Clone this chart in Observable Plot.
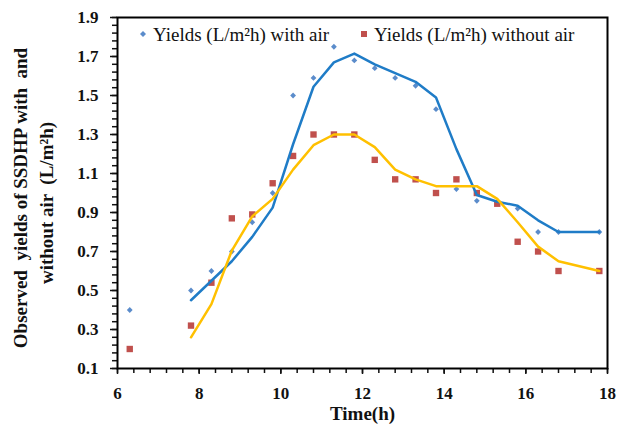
<!DOCTYPE html>
<html>
<head>
<meta charset="utf-8">
<script src="https://cdn.jsdelivr.net/npm/d3@7"></script>
<script src="https://cdn.jsdelivr.net/npm/@observablehq/plot@0.6"></script>
<style>
  html, body { margin: 0; padding: 0; background: #fff; }
  #wrap { position: relative; width: 618px; height: 430px; }
  #wrap svg, #wrap svg text { font-family: "Liberation Serif", "Times New Roman", serif !important; }
  #wrap svg text { font-weight: bold; }
  .leg { position: absolute; font-family: "Liberation Serif", "Times New Roman", serif; font-size: 19px; color: #111; white-space: nowrap; line-height: 19px; }
  .mk { position: absolute; line-height: 0; }
  .mk svg { display: block; }
</style>
</head>
<body>
<div id="wrap"></div>
<script>
// Time (h)
const times = [6.3, 7.8, 8.3, 8.8, 9.3, 9.8, 10.3, 10.8, 11.3, 11.8, 12.3, 12.8, 13.3, 13.8, 14.3, 14.8, 15.3, 15.8, 16.3, 16.8, 17.8];
// Observed yields (L/m²h) with air
const withAir = [0.4, 0.5, 0.6, 0.7, 0.85, 1.0, 1.5, 1.59, 1.75, 1.68, 1.64, 1.59, 1.55, 1.43, 1.02, 0.96, 0.95, 0.92, 0.8, 0.8, 0.8];
// Observed yields (L/m²h) without air
const withoutAir = [0.2, 0.32, 0.54, 0.87, 0.89, 1.05, 1.19, 1.3, 1.3, 1.3, 1.17, 1.07, 1.07, 1.0, 1.07, 1.0, 0.945, 0.75, 0.7, 0.6, 0.6];
// Trend lines (start at 7.8 h)
const lineTimes = [7.8, 8.3, 8.8, 9.3, 9.8, 10.3, 10.8, 11.3, 11.8, 12.3, 12.8, 13.3, 13.8, 14.3, 14.8, 15.3, 15.8, 16.3, 16.8, 17.8];
const lineWithAir = [0.45, 0.55, 0.65, 0.775, 0.925, 1.25, 1.545, 1.67, 1.715, 1.66, 1.615, 1.57, 1.49, 1.225, 0.99, 0.955, 0.935, 0.86, 0.8, 0.8];
const lineWithoutAir = [0.26, 0.43, 0.705, 0.88, 0.97, 1.12, 1.245, 1.3, 1.3, 1.235, 1.12, 1.07, 1.035, 1.035, 1.035, 0.97, 0.85, 0.725, 0.65, 0.6];
// Axis ticks
const xMajor = [6, 8, 10, 12, 14, 16, 18];
const yMajor = [0.1, 0.3, 0.5, 0.7, 0.9, 1.1, 1.3, 1.5, 1.7, 1.9];
const xMinorStep = 0.4;
const yMinorStep = 0.04;
const xTitle = "Time(h)";
const yTitleLines = ["Observed  yields of SSDHP with  and", "without air  (L/m²h)"];
const legendLabels = ["Yields (L/m²h) with air", "Yields (L/m²h) without air"];

const xMinor = d3.range(6, 18.001, xMinorStep);
const yMinor = d3.range(0.1, 1.9001, yMinorStep);

const pts = times.map((t, i) => ({t, a: withAir[i], b: withoutAir[i]}));
const lns = lineTimes.map((t, i) => ({t, a: lineWithAir[i], b: lineWithoutAir[i]}));

const blueLine = "#1f7cc7", yellowLine = "#ffc000", bluePt = "#5b8ccb", redPt = "#c0504d";
const serif = "Liberation Serif";

const chart = Plot.plot({
  width: 618, height: 430,
  marginLeft: 117, marginRight: 11, marginTop: 17, marginBottom: 62,
  style: { fontFamily: serif, background: "white", color: "#111" },
  x: { domain: [6, 18] },
  y: { domain: [0.1, 1.9] },
  marks: [
    Plot.axisX(xMinor, { tickSize: 5, tickFormat: () => "", label: null, strokeWidth: 1.5 }),
    Plot.axisX(xMajor, { tickSize: 6, tickPadding: 12, fontSize: 17, fontFamily: serif, label: null, strokeWidth: 1.5 }),
    Plot.axisY(yMinor, { tickSize: 5, tickFormat: () => "", label: null, strokeWidth: 1.5 }),
    Plot.axisY(yMajor, { tickSize: 7, tickPadding: 12, fontSize: 17, fontFamily: serif, label: null, tickFormat: d3.format(".1f"), strokeWidth: 1.5 }),
    Plot.dot(pts, { x: "t", y: "a", symbol: "diamond2", r: 2.6, fill: bluePt, stroke: "none" }),
    Plot.dot(pts, { x: "t", y: "b", symbol: "square", r: 3.6, fill: redPt, stroke: "none" }),
    Plot.line(lns, { x: "t", y: "a", stroke: blueLine, strokeWidth: 2.5 }),
    Plot.line(lns, { x: "t", y: "b", stroke: yellowLine, strokeWidth: 2.5 }),
    Plot.frame({ stroke: "black", strokeWidth: 2 }),
    Plot.text([xTitle], { frameAnchor: "bottom", lineAnchor: "middle", dy: 45, fontSize: 19, fontFamily: serif, fill: "#111" }),
    Plot.text([yTitleLines[0]], { frameAnchor: "left", textAnchor: "middle", lineAnchor: "middle", rotate: -90, dx: -97, dy: 5, fontSize: 19, fontFamily: serif, fill: "#111" }),
    Plot.text([yTitleLines[1]], { frameAnchor: "left", textAnchor: "middle", lineAnchor: "middle", rotate: -90, dx: -71, dy: 10, fontSize: 19, fontFamily: serif, fill: "#111" })
  ]
});
const wrap = document.getElementById("wrap");
wrap.appendChild(chart);

// Legend (inside plot area, top)
function addMarker(x, y, html) {
  const d = document.createElement("div");
  d.className = "mk"; d.style.left = x + "px"; d.style.top = y + "px"; d.innerHTML = html;
  wrap.appendChild(d);
}
function addLabel(x, y, text) {
  const d = document.createElement("div");
  d.className = "leg"; d.style.left = x + "px"; d.style.top = y + "px"; d.textContent = text;
  wrap.appendChild(d);
}
addMarker(140, 31, `<svg width="6" height="6"><path d="M3 0 L6 3 L3 6 L0 3Z" fill="${bluePt}"/></svg>`);
addLabel(153, 25, legendLabels[0]);
addMarker(360.5, 31, `<svg width="6" height="6"><rect width="6" height="6" fill="${redPt}"/></svg>`);
addLabel(374, 25, legendLabels[1]);
</script>
</body>
</html>
